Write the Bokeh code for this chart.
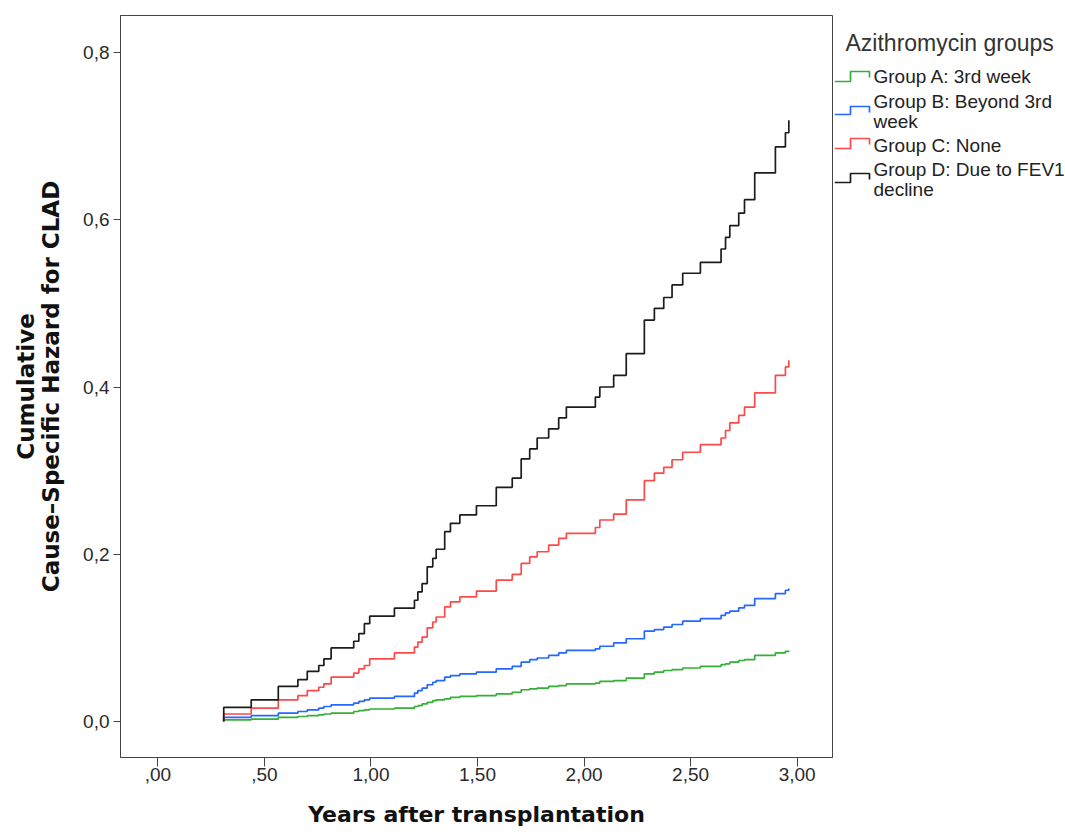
from bokeh.plotting import figure
from bokeh.layouts import row
from bokeh.models import Range1d, FixedTicker
from bokeh.core.properties import value
from bokeh.embed import file_html
from bokeh.resources import INLINE

# ---- data ----
event_times = [0.309, 0.438, 0.565, 0.657, 0.701, 0.755, 0.779, 0.813, 0.919, 0.943,
               0.969, 0.994, 1.110, 1.204, 1.220, 1.240, 1.264, 1.290, 1.306, 1.346,
               1.373, 1.417, 1.495, 1.588, 1.663, 1.705, 1.745, 1.780, 1.834, 1.881,
               1.917, 2.053, 2.074, 2.139, 2.198, 2.283, 2.330, 2.374, 2.413, 2.463,
               2.546, 2.643, 2.664, 2.684, 2.726, 2.753, 2.801, 2.898, 2.945, 2.961]

hazard_A = [0.002, 0.003, 0.005, 0.006, 0.007, 0.008, 0.009, 0.010, 0.012, 0.013,
            0.014, 0.015, 0.016, 0.018, 0.019, 0.021, 0.023, 0.025, 0.026, 0.027,
            0.029, 0.030, 0.031, 0.033, 0.035, 0.038, 0.039, 0.040, 0.042, 0.043,
            0.045, 0.046, 0.048, 0.049, 0.052, 0.057, 0.059, 0.061, 0.062, 0.064,
            0.066, 0.068, 0.069, 0.071, 0.073, 0.074, 0.079, 0.082, 0.084, 0.085]

hazard_B = [0.005, 0.007, 0.010, 0.012, 0.014, 0.016, 0.018, 0.020, 0.022, 0.024,
            0.026, 0.028, 0.030, 0.034, 0.037, 0.040, 0.044, 0.047, 0.049, 0.053,
            0.055, 0.057, 0.059, 0.063, 0.066, 0.071, 0.074, 0.076, 0.079, 0.082,
            0.085, 0.087, 0.090, 0.094, 0.099, 0.108, 0.110, 0.113, 0.116, 0.120,
            0.123, 0.127, 0.130, 0.132, 0.136, 0.139, 0.147, 0.153, 0.157, 0.159]

hazard_C = [0.009, 0.016, 0.026, 0.031, 0.037, 0.041, 0.045, 0.053, 0.058, 0.063,
            0.067, 0.075, 0.082, 0.089, 0.095, 0.101, 0.112, 0.119, 0.125, 0.137,
            0.143, 0.149, 0.156, 0.169, 0.176, 0.189, 0.197, 0.203, 0.211, 0.219,
            0.225, 0.232, 0.241, 0.248, 0.265, 0.288, 0.297, 0.304, 0.313, 0.322,
            0.331, 0.339, 0.348, 0.357, 0.366, 0.376, 0.393, 0.414, 0.424, 0.432]

hazard_D = [0.017, 0.026, 0.042, 0.050, 0.060, 0.067, 0.075, 0.088, 0.096, 0.105,
            0.117, 0.126, 0.1355, 0.145, 0.155, 0.165, 0.185, 0.195, 0.206, 0.227,
            0.237, 0.247, 0.258, 0.280, 0.291, 0.314, 0.326, 0.339, 0.350, 0.363,
            0.376, 0.388, 0.400, 0.414, 0.440, 0.480, 0.494, 0.507, 0.522, 0.536,
            0.549, 0.565, 0.579, 0.593, 0.608, 0.624, 0.656, 0.687, 0.704, 0.719]

group_labels = ["Group A: 3rd week", "Group B: Beyond 3rd\nweek", "Group C: None",
                "Group D: Due to FEV1\ndecline"]
group_colors = ["#33b035", "#2468ff", "#ff4848", "#1c1c1c"]

x_ticks = [0.0, 0.5, 1.0, 1.5, 2.0, 2.5, 3.0]
x_tick_labels = [",00", ",50", "1,00", "1,50", "2,00", "2,50", "3,00"]
y_ticks = [0.0, 0.2, 0.4, 0.6, 0.8]
y_tick_labels = ["0,0", "0,2", "0,4", "0,6", "0,8"]

FONT = "Liberation Sans"
FRAME = "#454545"

p = figure(width=834, height=838, output_backend="svg", toolbar_location=None,
           x_range=Range1d(-0.1755, 3.166), y_range=Range1d(-0.043, 0.8442),
           min_border_left=120, min_border_right=2, min_border_top=15,
           min_border_bottom=81)
p.grid.visible = False
p.outline_line_color = FRAME
p.outline_line_width = 1
p.background_fill_color = "white"
p.border_fill_color = "white"

for series, color in zip([hazard_A, hazard_B, hazard_C, hazard_D], group_colors):
    xs = [event_times[0]] + event_times
    ys = [0.0] + series
    p.step(x=xs, y=ys, mode="after", line_color=color, line_width=1.7)

p.xaxis.ticker = FixedTicker(ticks=x_ticks)
p.xaxis.major_label_overrides = {t: l for t, l in zip(x_ticks, x_tick_labels)}
p.yaxis.ticker = FixedTicker(ticks=y_ticks)
p.yaxis.major_label_overrides = {t: l for t, l in zip(y_ticks, y_tick_labels)}

for ax in (p.xaxis[0], p.yaxis[0]):
    ax.axis_line_color = FRAME
    ax.major_tick_line_color = FRAME
    ax.minor_tick_line_color = None
    ax.major_tick_in = 0
    ax.major_label_text_font = FONT
    ax.major_label_text_font_size = "19px"
    ax.major_label_text_color = "#2a2a2a"
    ax.axis_label_text_font = "DejaVu Sans"
    ax.axis_label_text_font_style = "bold"
    ax.axis_label_text_color = "#111111"

p.xaxis.major_tick_out = 9
p.xaxis.major_label_standoff = 1
p.xaxis.axis_label = "Years after transplantation"
p.xaxis.axis_label_text_font_size = "22px"
p.xaxis.axis_label_standoff = 18

p.yaxis.major_tick_out = 7
p.yaxis.major_label_standoff = 4
p.yaxis.axis_label = "Cumulative\nCause\u2013Specific Hazard for CLAD"
p.yaxis.axis_label_text_font_size = "23px"
p.yaxis.axis_label_text_line_height = 0.95
p.yaxis.axis_label_standoff = 16

# ---- legend panel (drawn to the right of the frame) ----
# its frame is aligned with the main frame (page y 15..757), so the
# y range below maps legend coordinates one-to-one onto page pixels
lg = figure(width=231, height=838, output_backend="svg", toolbar_location=None,
            x_range=Range1d(0, 231), y_range=Range1d(757, 15),
            min_border_left=0, min_border_right=0, min_border_top=15,
            min_border_bottom=81)
lg.axis.visible = False
lg.grid.visible = False
lg.outline_line_color = None

lg.text(x=[11], y=[42], text=["Azithromycin groups"], text_font=value(FONT),
        text_font_size="23px", text_color="#333333", text_baseline="middle",
        text_align="left")

icon_low = [81, 114, 148, 182]
icon_high = [71, 106, 138, 173]
text_y = [76, 101, 145, 169]
for lab, col, lo, hi, ty in zip(group_labels, group_colors, icon_low, icon_high, text_y):
    lg.line(x=[0, 16, 16, 35, 35], y=[lo, lo, hi, hi, hi + 6], line_color=col,
            line_width=1.7)
    for k, part in enumerate(lab.split("\n")):
        lg.text(x=[39], y=[ty + 20 * k], text=[part], text_font=value(FONT),
                text_font_size="19px", text_color="#222222",
                text_baseline="middle", text_align="left")

layout = row(p, lg)
open("out.html", "w").write(file_html(layout, INLINE))
